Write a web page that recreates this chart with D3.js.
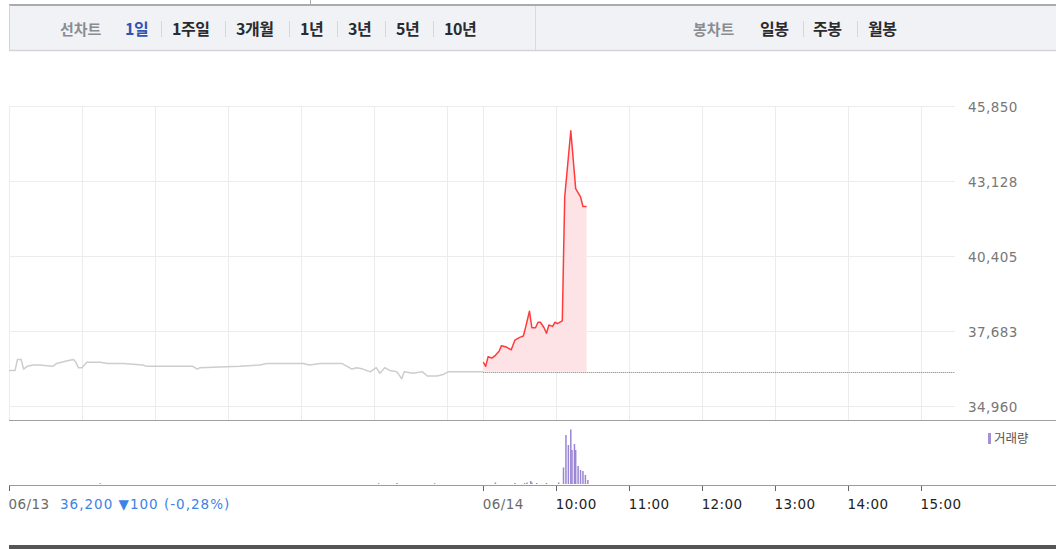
<!DOCTYPE html>
<html><head><meta charset="utf-8">
<script src="https://cdn.jsdelivr.net/npm/d3@7"></script>
<style>
html,body{margin:0;padding:0;background:#fff;}
svg{display:block;}
</style></head>
<body><svg id="c" width="1056" height="549"></svg>
<script>
// ---------- data ----------
const leftTabs = ["1일", "1주일", "3개월", "1년", "3년", "5년", "10년"];
const rightTabs = ["일봉", "주봉", "월봉"];
const prevClose = 36200;
const day1Times = ["09:00","09:05","09:07","09:10","09:12","09:15","09:20","09:25","09:36","09:39","09:48","09:53","09:55","09:57","10:00","10:04","10:09","10:15","10:21","10:23","10:34","10:50","10:53","11:31","11:35","11:37","12:10","12:26","12:32","12:35","13:02","13:07","13:16","13:34","13:38","13:42","13:46","13:51","13:57","14:02","14:05","14:09","14:13","14:19","14:23","14:25","14:32","14:40","14:44","14:52","14:57","15:01","15:09","15:16","15:30"];
const day1Prices = [36250,36250,36650,36650,36300,36400,36450,36450,36400,36500,36600,36650,36550,36350,36350,36550,36550,36550,36500,36500,36500,36450,36400,36400,36300,36350,36400,36450,36500,36500,36500,36450,36500,36500,36400,36300,36350,36300,36200,36350,36150,36350,36250,36200,35950,36200,36150,36200,36050,36050,36100,36200,36200,36200,36200];
const day2Times = ["09:00","09:02","09:04","09:07","09:10","09:13","09:15","09:19","09:23","09:26","09:30","09:33","09:35","09:38","09:40","09:43","09:45","09:47","09:50","09:52","09:54","09:57","09:59","10:01","10:05","10:07","10:12","10:16","10:20","10:22","10:25"];
const day2Prices = [36550,36400,36750,36700,36800,36950,37150,37100,37000,37350,37450,37500,37850,38400,37800,37800,38000,38000,37800,37600,37900,37850,38000,37950,38050,42550,44950,42850,42550,42200,42200];
const vol1Times = ["10:15","14:04","14:19","14:50"];
const vol1Values = [8000, 8000, 10000, 8000];
const vol2Times = ["09:10","09:26","09:34","09:36","09:39","09:40","09:44","09:52","10:02","10:06","10:08","10:10","10:12","10:13","10:15","10:16","10:18","10:20","10:22","10:24","10:26"];
const vol2Values = [15000,10000,10000,15000,30000,15000,10000,10000,15000,165000,490000,390000,545000,340000,400000,340000,180000,140000,130000,90000,40000];
const yTicks = [34960, 37682.5, 40405, 43127.5, 45850];
const yTickLabels = ["34,960", "37,683", "40,405", "43,128", "45,850"];
const xTickDays = [0, 1, 1, 1, 1, 1, 1, 1];
const xTickTimes = ["09:00","09:00","10:00","11:00","12:00","13:00","14:00","15:00"];
const xTickLabels = ["06/13", "06/14", "10:00", "11:00", "12:00", "13:00", "14:00", "15:00"];
const gridHours = ["09:00","10:00","11:00","12:00","13:00","14:00","15:00"];
const closeInfo = "36,200 ▼100 (-0,28%)";

// ---------- helpers ----------
function sm(day, t){ const [h,m] = t.split(":").map(Number); return day*390 + (h-9)*60 + m; }
const svg = d3.select("#c");
const x = d3.scaleLinear().domain([0, 780]).range([9, 957.5]);
const y = d3.scaleLinear().domain([34960, 45850]).range([406, 106]);
const yv = d3.scaleLinear().domain([0, 560000]).range([484, 428]);
const numFont = "'DejaVu Sans', sans-serif";
const krFont = "'Noto Sans CJK KR', sans-serif";

// ---------- top tab bar ----------
svg.append("rect").attr("x",9.5).attr("y",5).attr("width",1050).attr("height",45.5)
  .attr("fill","#f1f2f6").attr("stroke","none");
svg.append("line").attr("x1",9).attr("x2",1056).attr("y1",5).attr("y2",5).attr("stroke","#a9abb0").attr("stroke-width",2);
svg.append("line").attr("x1",9).attr("x2",1056).attr("y1",50.5).attr("y2",50.5).attr("stroke","#d3d5da").attr("stroke-width",1.5);
svg.append("line").attr("x1",9.5).attr("x2",9.5).attr("y1",5).attr("y2",51).attr("stroke","#d3d5da");
svg.append("line").attr("x1",535.5).attr("x2",535.5).attr("y1",6).attr("y2",50).attr("stroke","#d8dade");
svg.append("line").attr("x1",310.5).attr("x2",310.5).attr("y1",0).attr("y2",5).attr("stroke","#a9abb0");

const tabY = 35;
svg.append("text").attr("x",60).attr("y",tabY).attr("font-family",krFont).attr("font-size",15).attr("font-weight",700)
  .attr("fill","#8a8c92").text("선차트");
const leftX = [125, 172, 236, 300, 348, 396, 444];
const leftSep = [161, 225, 289, 337, 385, 433];
svg.selectAll(".lt").data(leftTabs).join("text").attr("class","lt")
  .attr("x",(d,i)=>leftX[i]).attr("y",tabY).attr("font-family",krFont).attr("font-size",16).attr("font-weight",700)
  .attr("fill",(d,i)=> i===0 ? "#2f55b4" : "#2a2b2e").attr("letter-spacing",-0.5).text(d=>d);
svg.selectAll(".ls").data(leftSep).join("line").attr("class","ls")
  .attr("x1",d=>d+0.5).attr("x2",d=>d+0.5).attr("y1",21).attr("y2",37).attr("stroke","#d4d6db");
svg.append("text").attr("x",693).attr("y",tabY).attr("font-family",krFont).attr("font-size",15).attr("font-weight",700)
  .attr("fill","#8a8c92").text("봉차트");
const rightX = [760, 813, 868];
const rightSep = [803, 857];
svg.selectAll(".rt").data(rightTabs).join("text").attr("class","rt")
  .attr("x",(d,i)=>rightX[i]).attr("y",tabY).attr("font-family",krFont).attr("font-size",16).attr("font-weight",700)
  .attr("fill","#2a2b2e").attr("letter-spacing",-0.5).text(d=>d);
svg.selectAll(".rs").data(rightSep).join("line").attr("class","rs")
  .attr("x1",d=>d+0.5).attr("x2",d=>d+0.5).attr("y1",21).attr("y2",37).attr("stroke","#d4d6db");

// ---------- grid ----------
const gridX = [];
[0,1].forEach(dy => gridHours.forEach(t => gridX.push(sm(dy,t))));
const gGrid = svg.append("g");
gGrid.append("g").attr("transform","translate(0,420)")
  .call(d3.axisTop(x).tickValues(gridX).tickSize(420-106).tickFormat(""))
  .call(g=>g.select(".domain").remove())
  .call(g=>g.selectAll("line").attr("stroke","#ececec").attr("shape-rendering","crispEdges"));
gGrid.append("g").attr("transform","translate(955,0)")
  .call(d3.axisLeft(y).tickValues(yTicks).tickSize(955-9).tickFormat(""))
  .call(g=>g.select(".domain").remove())
  .call(g=>g.selectAll("line").attr("stroke","#ececec").attr("shape-rendering","crispEdges"));

// y labels
svg.append("g").attr("transform","translate(968,1)")
  .call(d3.axisRight(y).tickValues(yTicks).tickSize(0).tickPadding(0).tickFormat((d,i)=>yTickLabels[i]))
  .call(g=>g.select(".domain").remove())
  .call(g=>g.selectAll("text").attr("font-family",numFont).attr("font-size",13.5).attr("fill","#777")
     .attr("letter-spacing",0.4).attr("dy","0.35em"));

// ---------- price ----------
const d1 = day1Times.map((t,i)=>({m: sm(0,t), p: day1Prices[i]}));
const d2 = day2Times.map((t,i)=>({m: sm(1,t), p: day2Prices[i]}));

svg.append("path").datum(d2)
  .attr("d", d3.area().x(d=>x(d.m)).y0(y(prevClose)).y1(d=>y(d.p)))
  .attr("fill","#fde3e6");
svg.append("line").attr("x1",x(sm(1,"09:00"))).attr("x2",955).attr("y1",Math.round(y(prevClose))+0.5).attr("y2",Math.round(y(prevClose))+0.5)
  .attr("stroke","#7a7a7a").attr("stroke-dasharray","1,1");
svg.append("path").datum(d1)
  .attr("d", d3.line().x(d=>x(d.m)).y(d=>y(d.p)))
  .attr("fill","none").attr("stroke","#cdcdd0").attr("stroke-width",1.5).attr("stroke-linejoin","round");
svg.append("path").datum(d2)
  .attr("d", d3.line().x(d=>x(d.m)).y(d=>y(d.p)))
  .attr("fill","none").attr("stroke","#ff3b3b").attr("stroke-width",1.5).attr("stroke-linejoin","round");

// separator between price and volume
svg.append("line").attr("x1",9).attr("x2",1056).attr("y1",420.5).attr("y2",420.5).attr("stroke","#9fa0a4").attr("stroke-width",1.2);

// ---------- volume ----------
const vols = vol1Times.map((t,i)=>({m: sm(0,t), v: vol1Values[i]}))
  .concat(vol2Times.map((t,i)=>({m: sm(1,t), v: vol2Values[i]})));
svg.selectAll(".vb").data(vols).join("rect").attr("class","vb")
  .attr("x",d=>x(d.m)-0.75).attr("width",1.5)
  .attr("y",d=>yv(d.v)).attr("height",d=>yv(0)-yv(d.v))
  .attr("fill","#9a86d4");

svg.append("rect").attr("x",988).attr("y",433).attr("width",3).attr("height",11).attr("fill","#a390d8");
svg.append("text").attr("x",994).attr("y",443).attr("font-family",krFont).attr("font-size",12.5)
  .attr("fill","#555").text("거래량");

// ---------- x axis ----------
const xTickVals = xTickTimes.map((t,i)=>sm(xTickDays[i], t));
const xa = svg.append("g").attr("transform","translate(0,485)")
  .call(d3.axisBottom(x).tickValues(xTickVals).tickSize(6).tickPadding(5).tickFormat((d,i)=>xTickLabels[i]));
xa.select(".domain").remove();
xa.selectAll("line").attr("stroke","#666").attr("shape-rendering","crispEdges");
xa.selectAll("text").attr("text-anchor","start").attr("dx",-1).attr("dy","0.95em")
  .attr("font-family",numFont).attr("font-size",13.5).attr("letter-spacing",0.4)
  .attr("fill",(d,i)=> i<2 ? "#6a6a6a" : "#222");
svg.append("line").attr("x1",9).attr("x2",1056).attr("y1",485.5).attr("y2",485.5).attr("stroke","#9a9b9f").attr("stroke-width",1.2);

svg.append("text").attr("x",60).attr("y",509).attr("font-family",numFont).attr("font-size",13.5)
  .attr("letter-spacing",1).attr("fill","#3d82e6").text(closeInfo);

// bottom band
svg.append("rect").attr("x",9).attr("y",545).attr("width",1047).attr("height",4).attr("fill","#555");
</script>
</body></html>
